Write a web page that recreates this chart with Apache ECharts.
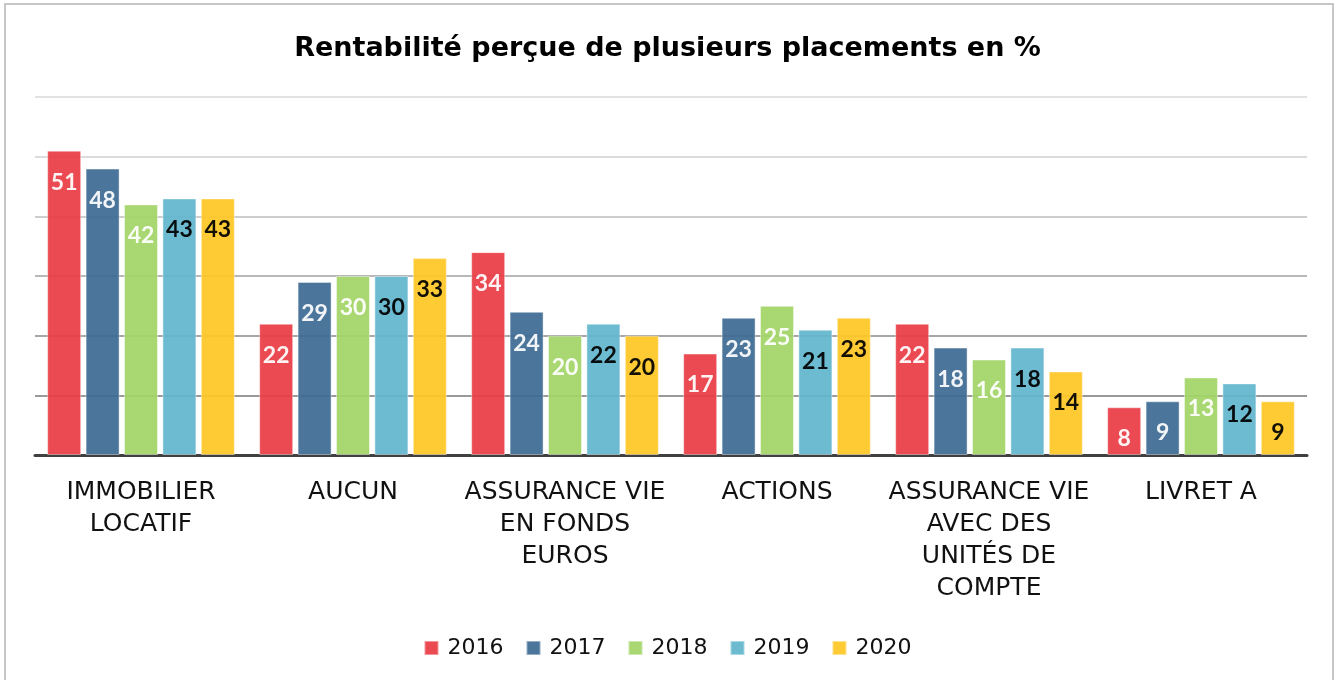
<!DOCTYPE html>
<html>
<head>
<meta charset="utf-8">
<script src="https://cdn.jsdelivr.net/npm/echarts@6/dist/echarts.min.js"></script>
<style>
  html, body { margin: 0; padding: 0; background: #fff; }
  #chart { width: 1335px; height: 680px; }
</style>
</head>
<body>
<div id="chart"></div>
<script>
// catégories (axe X)
var categories = ['IMMOBILIER\nLOCATIF', 'AUCUN', 'ASSURANCE VIE\nEN FONDS\nEUROS', 'ACTIONS',
    'ASSURANCE VIE\nAVEC DES\nUNITÉS DE\nCOMPTE', 'LIVRET A'];
var years = ['2016', '2017', '2018', '2019', '2020'];
var v2016 = [51, 22, 34, 17, 22, 8];
var v2017 = [48, 29, 24, 23, 18, 9];
var v2018 = [42, 30, 20, 25, 16, 13];
var v2019 = [43, 30, 22, 21, 18, 12];
var v2020 = [43, 33, 20, 23, 14, 9];

var values = [v2016, v2017, v2018, v2019, v2020];
var colors = ['#e93c46', '#3d6a93', '#a2d567', '#62b6ce', '#ffc726'];
var labelColors = ['#fff', '#fff', '#fff', '#000', '#000'];
var font = '"DejaVu Sans", sans-serif';
var labelFont = 'Lato, sans-serif';

var chart = echarts.init(document.getElementById('chart'));

var series = years.map(function (y, i) {
    return {
        name: y,
        type: 'bar',
        data: values[i],
        barGap: '13%',
        barCategoryGap: '11.5%',
        itemStyle: {
            color: colors[i],
            opacity: 0.93,
            borderColor: 'rgba(255,255,255,0.45)',
            borderWidth: 1
        },
        label: {
            show: true,
            position: 'insideTop',
            distance: 20,
            color: labelColors[i],
            fontFamily: labelFont,
            fontWeight: 'bold',
            fontSize: 23
        }
    };
});

var option = {
    backgroundColor: '#fff',
    animation: false,
    title: {
        text: 'Rentabilité perçue de plusieurs placements en %',
        left: 'center',
        top: 30,
        textStyle: {
            fontFamily: font,
            fontWeight: 'bold',
            fontSize: 27,
            color: '#000'
        }
    },
    legend: {
        data: years,
        top: 632,
        left: 'center',
        itemWidth: 14,
        itemHeight: 14,
        itemGap: 22,
        icon: 'rect',
        textStyle: {
            fontFamily: font,
            fontSize: 22,
            color: '#111',
            padding: [0, 0, 0, 4]
        }
    },
    grid: {
        left: 35,
        right: 28,
        top: 97,
        bottom: 225,
        containLabel: false
    },
    xAxis: {
        type: 'category',
        data: categories,
        axisTick: { show: false },
        axisLine: { lineStyle: { color: '#404040', width: 3 } },
        axisLabel: {
            interval: 0,
            margin: 21,
            fontFamily: font,
            fontSize: 25,
            lineHeight: 32,
            color: '#111'
        }
    },
    yAxis: {
        type: 'value',
        min: 0,
        max: 60,
        interval: 10,
        axisLabel: { show: false },
        axisLine: { show: false },
        axisTick: { show: false },
        splitLine: {
            lineStyle: {
                width: 2,
                color: ['#999', '#999', '#a6a6a6', '#b8b8b8', '#cdcdcd', '#dcdcdc', '#e2e2e2']
            }
        }
    },
    graphic: [{
        type: 'rect',
        shape: { x: 5, y: 4, width: 1328, height: 690 },
        style: { fill: 'none', stroke: '#c6c6c6', lineWidth: 2 },
        silent: true
    }],
    series: series
};

chart.setOption(option);
</script>
</body>
</html>
